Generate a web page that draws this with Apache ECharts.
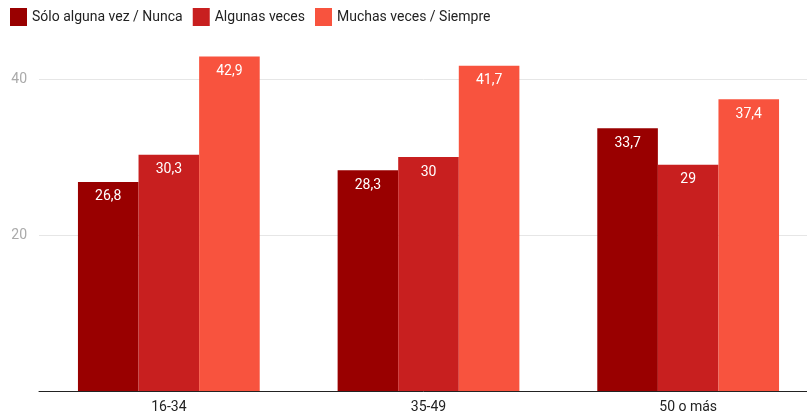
<!DOCTYPE html>
<html>
<head>
<meta charset="utf-8">
<script src="https://cdn.jsdelivr.net/npm/echarts@6/dist/echarts.min.js"></script>
<style>
  html, body { margin: 0; padding: 0; background: #fff; }
  #main { width: 807px; height: 417px; }
</style>
</head>
<body>
<div id="main"></div>
<script>
// datos
var grupos = ['16-34', '35-49', '50 o más'];
var nombres = ['Sólo alguna vez / Nunca', 'Algunas veces', 'Muchas veces / Siempre'];
var nunca = [26.8, 28.3, 33.7];
var algunas = [30.3, 30, 29];
var siempre = [42.9, 41.7, 37.4];
var colores = ['#990000', '#c81f1f', '#f8533e'];

function serie(nombre, datos, color) {
	return {
		name: nombre,
		type: 'bar',
		barGap: 0,
		barCategoryGap: '30%',
		itemStyle: { color: color },
		label: {
			show: true,
			position: 'insideTop',
			distance: 8,
			color: '#fff',
			fontFamily: 'Roboto',
			fontSize: 14,
			formatter: function (p) { return String(p.value).replace('.', ','); }
		},
		data: datos
	};
}

var chart = echarts.init(document.getElementById('main'));
chart.setOption({
	animation: false,
	textStyle: { fontFamily: 'Roboto' },
	color: colores,
	legend: {
		left: 10,
		top: 8,
		padding: 0,
		itemWidth: 17,
		itemHeight: 18,
		itemGap: 10,
		icon: 'rect',
		textStyle: { fontSize: 14, color: '#222', fontFamily: 'Roboto' },
		data: nombres
	},
	grid: { left: 39, right: -11, top: -77, bottom: 26, containLabel: false, outerBoundsMode: 'none' },
	xAxis: {
		type: 'category',
		data: grupos,
		axisLine: { lineStyle: { color: '#222', width: 1 } },
		axisTick: { show: false },
		axisLabel: { color: '#222', fontSize: 14, margin: 9 }
	},
	yAxis: {
		type: 'value',
		min: 0,
		max: 60,
		interval: 20,
		axisLine: { show: false },
		axisTick: { show: false },
		axisLabel: {
			color: '#aaa', fontSize: 14, margin: 12,
			formatter: function (v) { return v === 0 ? '' : v; }
		},
		splitLine: { lineStyle: { color: '#e6e6e6' } }
	},
	series: [
		serie(nombres[0], nunca, colores[0]),
		serie(nombres[1], algunas, colores[1]),
		serie(nombres[2], siempre, colores[2])
	]
});
</script>
</body>
</html>
